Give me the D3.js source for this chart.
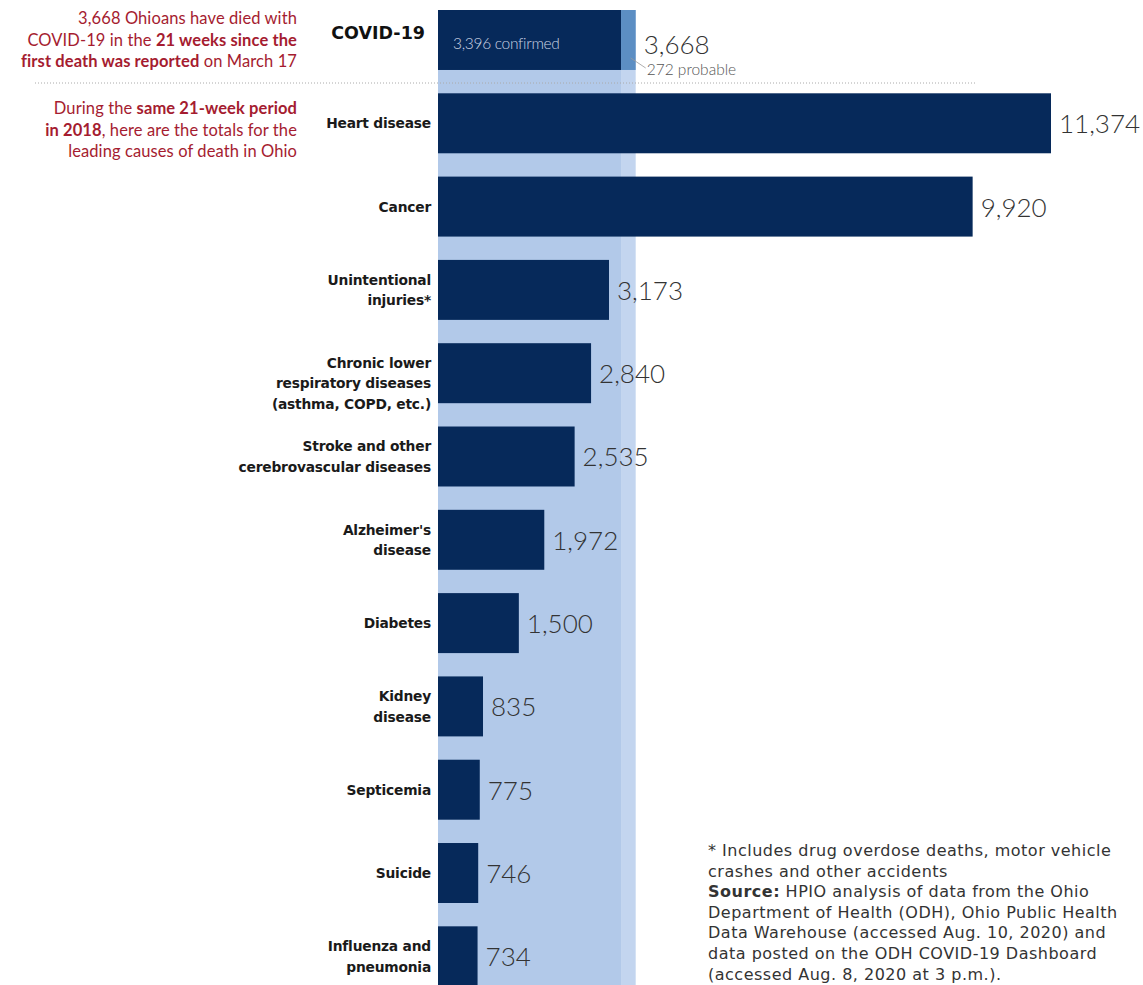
<!DOCTYPE html>
<html>
<head>
<meta charset="utf-8">
<script src="https://cdn.jsdelivr.net/npm/d3@7"></script>
<style>
  body { margin: 0; background: #fff; }
  svg { display: block; font-family: "Lato", "DejaVu Sans", sans-serif; }
</style>
</head>
<body>
<svg id="chart" width="1143" height="985"></svg>
<script>
// COVID-19 split
const covidConfirmed = 3396;
const covidProbable = 272;

// 2018 leading causes, same 21-week period
const causes = [
  ['Heart disease'],
  ['Cancer'],
  ['Unintentional', 'injuries*'],
  ['Chronic lower', 'respiratory diseases', '(asthma, COPD, etc.)'],
  ['Stroke and other', 'cerebrovascular diseases'],
  ["Alzheimer's", 'disease'],
  ['Diabetes'],
  ['Kidney', 'disease'],
  ['Septicemia'],
  ['Suicide'],
  ['Influenza and', 'pneumonia']
];
const deaths = [11374, 9920, 3173, 2840, 2535, 1972, 1500, 835, 775, 746, 734];

const NAVY = '#06295a';
const BAND = '#b2c9e9';
const BAND_LIGHT = '#c3d5ef';
const PROBABLE = '#5c8ec3';
const RED = '#a51c30';
const WIDE = '"DejaVu Sans", sans-serif';

const svg = d3.select('#chart');
const left = 438;

const x = d3.scaleLinear()
  .domain([0, d3.max(deaths)])
  .range([left, 1051]);

const rows = ['COVID-19'].concat(causes.map(c => c.join(' ')));
const y = d3.scaleBand()
  .domain(rows)
  .range([10, 986.3])
  .paddingInner(0.28)
  .paddingOuter(0);

const covidTotal = covidConfirmed + covidProbable;
const fmt = d3.format(',');

// background band showing COVID totals across all rows
svg.append('rect')
  .attr('x', x(0)).attr('y', y('COVID-19'))
  .attr('width', x(covidConfirmed) - x(0)).attr('height', 985 - y('COVID-19'))
  .attr('fill', BAND);
svg.append('rect')
  .attr('x', x(covidConfirmed)).attr('y', y('COVID-19'))
  .attr('width', x(covidTotal) - x(covidConfirmed)).attr('height', 985 - y('COVID-19'))
  .attr('fill', BAND_LIGHT);

// covid bar
const cy = y('COVID-19');
const bw = y.bandwidth();
svg.append('rect')
  .attr('x', x(0)).attr('y', cy)
  .attr('width', x(covidConfirmed) - x(0)).attr('height', bw)
  .attr('fill', NAVY);
svg.append('rect')
  .attr('x', x(covidConfirmed)).attr('y', cy)
  .attr('width', x(covidTotal) - x(covidConfirmed)).attr('height', bw)
  .attr('fill', PROBABLE);

svg.append('text')
  .attr('x', x(0) + 15).attr('y', cy + 39)
  .attr('fill', '#c9d2e2').attr('font-size', 15.5).attr('font-weight', 300)
  .style('letter-spacing', '-0.3px')
  .text(fmt(covidConfirmed) + ' confirmed');

svg.append('text')
  .attr('x', x(covidTotal) + 8).attr('y', cy + 44)
  .attr('fill', '#333').attr('font-size', 26).attr('font-weight', 300)
  .text(fmt(covidTotal));

svg.append('line')
  .attr('x1', x(covidTotal) - 5).attr('y1', cy + 48)
  .attr('x2', x(covidTotal) + 10).attr('y2', cy + 58)
  .attr('stroke', '#999').attr('stroke-width', 0.8);
svg.append('text')
  .attr('x', x(covidTotal) + 11).attr('y', cy + 65)
  .attr('fill', '#555').attr('font-size', 15.5).attr('font-weight', 300)
  .text(fmt(covidProbable) + ' probable');

svg.append('text')
  .attr('x', 425).attr('y', cy + 29)
  .attr('text-anchor', 'end')
  .style('font-family', WIDE)
  .attr('fill', '#111').attr('font-size', 17.5).attr('font-weight', 700)
  .text('COVID-19');

// dotted separator
svg.append('line')
  .attr('x1', 35).attr('x2', 975)
  .attr('y1', 83).attr('y2', 83)
  .attr('stroke', '#aaa').attr('stroke-width', 1)
  .attr('stroke-dasharray', '1,2');

// 2018 bars
const data = causes.map((c, i) => ({ lines: c, key: c.join(' '), value: deaths[i] }));

const g = svg.append('g');
const row = g.selectAll('.row')
  .data(data)
  .join('g')
  .attr('class', 'row')
  .attr('transform', d => `translate(0,${y(d.key)})`);

row.append('rect')
  .attr('x', x(0))
  .attr('width', d => x(d.value) - x(0))
  .attr('height', bw)
  .attr('fill', NAVY);

row.append('text')
  .attr('x', d => x(d.value) + 8)
  .attr('y', bw / 2 + 10)
  .attr('fill', '#333').attr('font-size', 26).attr('font-weight', 300)
  .text(d => fmt(d.value));

row.append('text')
  .attr('text-anchor', 'end')
  .style('font-family', WIDE)
  .attr('fill', '#1a1a1a').attr('font-size', 13.8).attr('font-weight', 700)
  .style('letter-spacing', '-0.2px')
  .each(function(d) {
    const lh = 20.5;
    const start = bw / 2 - (d.lines.length - 1) * lh / 2 + 5;
    d3.select(this).selectAll('tspan')
      .data(d.lines)
      .join('tspan')
      .attr('x', 431)
      .attr('y', (l, i) => start + i * lh + (d.lines.length === 3 ? 10 : 0))
      .text(l => l);
  });

// left annotations
function annot(lines, y0) {
  const t = svg.append('text')
    .attr('text-anchor', 'end')
    .attr('fill', RED).attr('font-size', 16.5)
    .style('letter-spacing', '0.1px');
  lines.forEach((parts, i) => {
    const ts = t.append('tspan').attr('x', 297).attr('y', y0 + i * 21.5);
    parts.forEach(p => {
      ts.append('tspan').attr('font-weight', p[1] ? 700 : 400).text(p[0]);
    });
  });
}
annot([
  [['3,668 Ohioans have died with', false]],
  [['COVID-19 in the ', false], ['21 weeks since the', true]],
  [['first death was reported', true], [' on March 17', false]]
], 24);
annot([
  [['During the ', false], ['same 21-week period', true]],
  [['in 2018', true], [', here are the totals for the', false]],
  [['leading causes of death in Ohio', false]]
], 114);

// footnote
const foot = svg.append('text')
  .style('font-family', WIDE)
  .style('letter-spacing', '0.5px')
  .attr('fill', '#333').attr('font-size', 16);
const footLines = [
  [[' * Includes drug overdose deaths, motor vehicle', false]],
  [['crashes and other accidents', false]],
  [['Source:', true], [' HPIO analysis of data from the Ohio', false]],
  [['Department of Health (ODH), Ohio Public Health', false]],
  [['Data Warehouse (accessed Aug. 10, 2020) and', false]],
  [['data posted on the ODH COVID-19 Dashboard', false]],
  [['(accessed Aug. 8, 2020 at 3 p.m.).', false]]
];
footLines.forEach((parts, i) => {
  const ts = foot.append('tspan').attr('x', 708).attr('y', 856 + i * 20.6);
  parts.forEach(p => {
    ts.append('tspan').attr('font-weight', p[1] ? 700 : 400).text(p[0]);
  });
});
</script>
</body>
</html>
